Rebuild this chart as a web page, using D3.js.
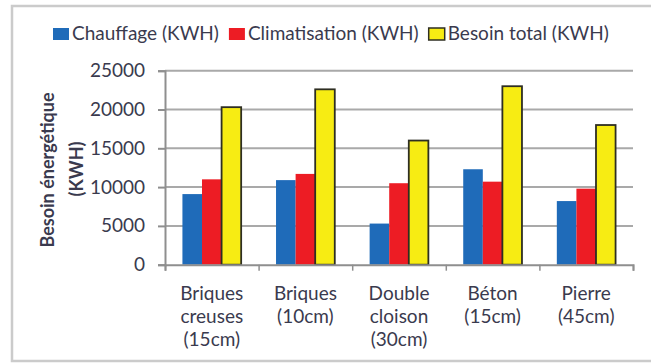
<!DOCTYPE html>
<html>
<head>
<meta charset="utf-8">
<script src="https://cdn.jsdelivr.net/npm/d3@7"></script>
<style>
  body { margin: 0; background: #fff; }
  text { font-family: Lato, "Liberation Sans", sans-serif; fill: #3a3a4e; }
</style>
</head>
<body>
<svg id="chart" width="651" height="363"></svg>
<script>
// Wall types (label lines) and the energy needs per wall type
const categories = [
  ["Briques", "creuses", "(15cm)"],
  ["Briques", "(10cm)"],
  ["Double", "cloison", "(30cm)"],
  ["Béton", "(15cm)"],
  ["Pierre", "(45cm)"]
];
const seriesNames = ["Chauffage (KWH)", "Climatisation (KWH)", "Besoin total (KWH)"];
const chauffage     = [9100, 10900, 5300, 12300, 8200];
const climatisation = [11000, 11700, 10500, 10700, 9800];
const besoinTotal   = [20300, 22600, 16000, 23000, 18000];
const yTicks = [0, 5000, 10000, 15000, 20000, 25000];
const yTitle = ["Besoin énergétique", "(KWH)"];

const seriesValues = [chauffage, climatisation, besoinTotal];
const seriesColors = ["#1f6bb9", "#ed1c24", "#f7ec13"];
const seriesStroke = [null, null, "#2e2e22"];

const svg = d3.select("#chart");

// outer frame
svg.append("rect")
  .attr("x", 12).attr("y", 6)
  .attr("width", 680).attr("height", 355)
  .attr("fill", "none").attr("stroke", "#cbcbcb").attr("stroke-width", 2.5);

const plot = { left: 165, right: 633, top: 70.7, bottom: 264.7 };

const keys = categories.map(c => c.join(" "));
const x0 = d3.scaleBand().domain(keys).range([plot.left, plot.right]).padding(0);
const x1 = d3.scaleBand().domain(d3.range(seriesNames.length))
  .range([0, x0.bandwidth()]).paddingInner(0).paddingOuter(0.89);
const y = d3.scaleLinear().domain([0, 25000]).range([plot.bottom, plot.top]);

// horizontal gridlines
svg.append("g").selectAll("line")
  .data(yTicks.filter(t => t > 0))
  .join("line")
  .attr("x1", plot.left).attr("x2", plot.right)
  .attr("y1", d => y(d)).attr("y2", d => y(d))
  .attr("stroke", "#a9a9a9").attr("stroke-width", 2);

// bars
const groups = svg.append("g").selectAll("g")
  .data(keys)
  .join("g")
  .attr("transform", d => `translate(${x0(d)},0)`);

groups.selectAll("rect")
  .data((d, i) => seriesValues.map((vals, s) => ({ s, v: vals[i] })))
  .join("rect")
  .attr("x", d => x1(d.s))
  .attr("width", x1.bandwidth())
  .attr("y", d => y(d.v))
  .attr("height", d => y(0) - y(d.v))
  .attr("fill", d => seriesColors[d.s])
  .attr("stroke", d => seriesStroke[d.s] || "none")
  .attr("stroke-width", 1.8);

// y axis
const yAxis = svg.append("g")
  .attr("transform", `translate(${plot.left},0)`)
  .call(d3.axisLeft(y).tickValues(yTicks).tickFormat(d3.format("d")).tickSize(7).tickPadding(13));
yAxis.select(".domain").attr("stroke", "#8f8f8f").attr("stroke-width", 2);
yAxis.selectAll(".tick line").attr("stroke", "#8f8f8f").attr("stroke-width", 2);
yAxis.selectAll(".tick text")
  .attr("font-size", 19).attr("font-family", "Lato, sans-serif").attr("fill", "#3a3a4e");

// x axis line with boundary ticks
const xAxis = svg.append("g")
  .attr("transform", `translate(0,${plot.bottom})`)
  .call(d3.axisBottom(d3.scaleLinear().domain([0, keys.length]).range([plot.left, plot.right]))
    .tickValues(d3.range(keys.length + 1)).tickSize(6).tickFormat(""));
xAxis.select(".domain").attr("stroke", "#8f8f8f").attr("stroke-width", 2);
xAxis.selectAll(".tick line").attr("stroke", "#8f8f8f").attr("stroke-width", 1.5);

// category labels
const catLabels = svg.append("g").selectAll("text")
  .data(categories)
  .join("text")
  .attr("text-anchor", "middle")
  .attr("font-size", 19);
catLabels.each(function (lines, i) {
  const cx = x0(keys[i]) + x0.bandwidth() / 2;
  d3.select(this).selectAll("tspan")
    .data(lines)
    .join("tspan")
    .attr("x", cx)
    .attr("y", (d, j) => 300 + j * 23)
    .text(d => d);
});

// y axis title (two rotated lines)
svg.append("text")
  .attr("transform", "translate(47,170) rotate(-90)")
  .attr("text-anchor", "middle").attr("dominant-baseline", "central")
  .attr("font-size", 18).attr("font-weight", "bold")
  .text(yTitle[0]);
svg.append("text")
  .attr("transform", "translate(76,169) rotate(-90)")
  .attr("text-anchor", "middle").attr("dominant-baseline", "central")
  .attr("font-size", 18).attr("font-weight", "bold")
  .text(yTitle[1]);

// legend
const legend = svg.append("g");
let lx = 53;
seriesNames.forEach((name, s) => {
  legend.append("rect")
    .attr("x", lx).attr("y", 28).attr("width", 16).attr("height", 12)
    .attr("fill", seriesColors[s])
    .attr("stroke", seriesStroke[s] || "none").attr("stroke-width", 1.5);
  const t = legend.append("text")
    .attr("x", lx + 19).attr("y", 40)
    .attr("font-size", 19)
    .text(name);
  lx += 19 + t.node().getComputedTextLength() + 10;
});
</script>
</body>
</html>
